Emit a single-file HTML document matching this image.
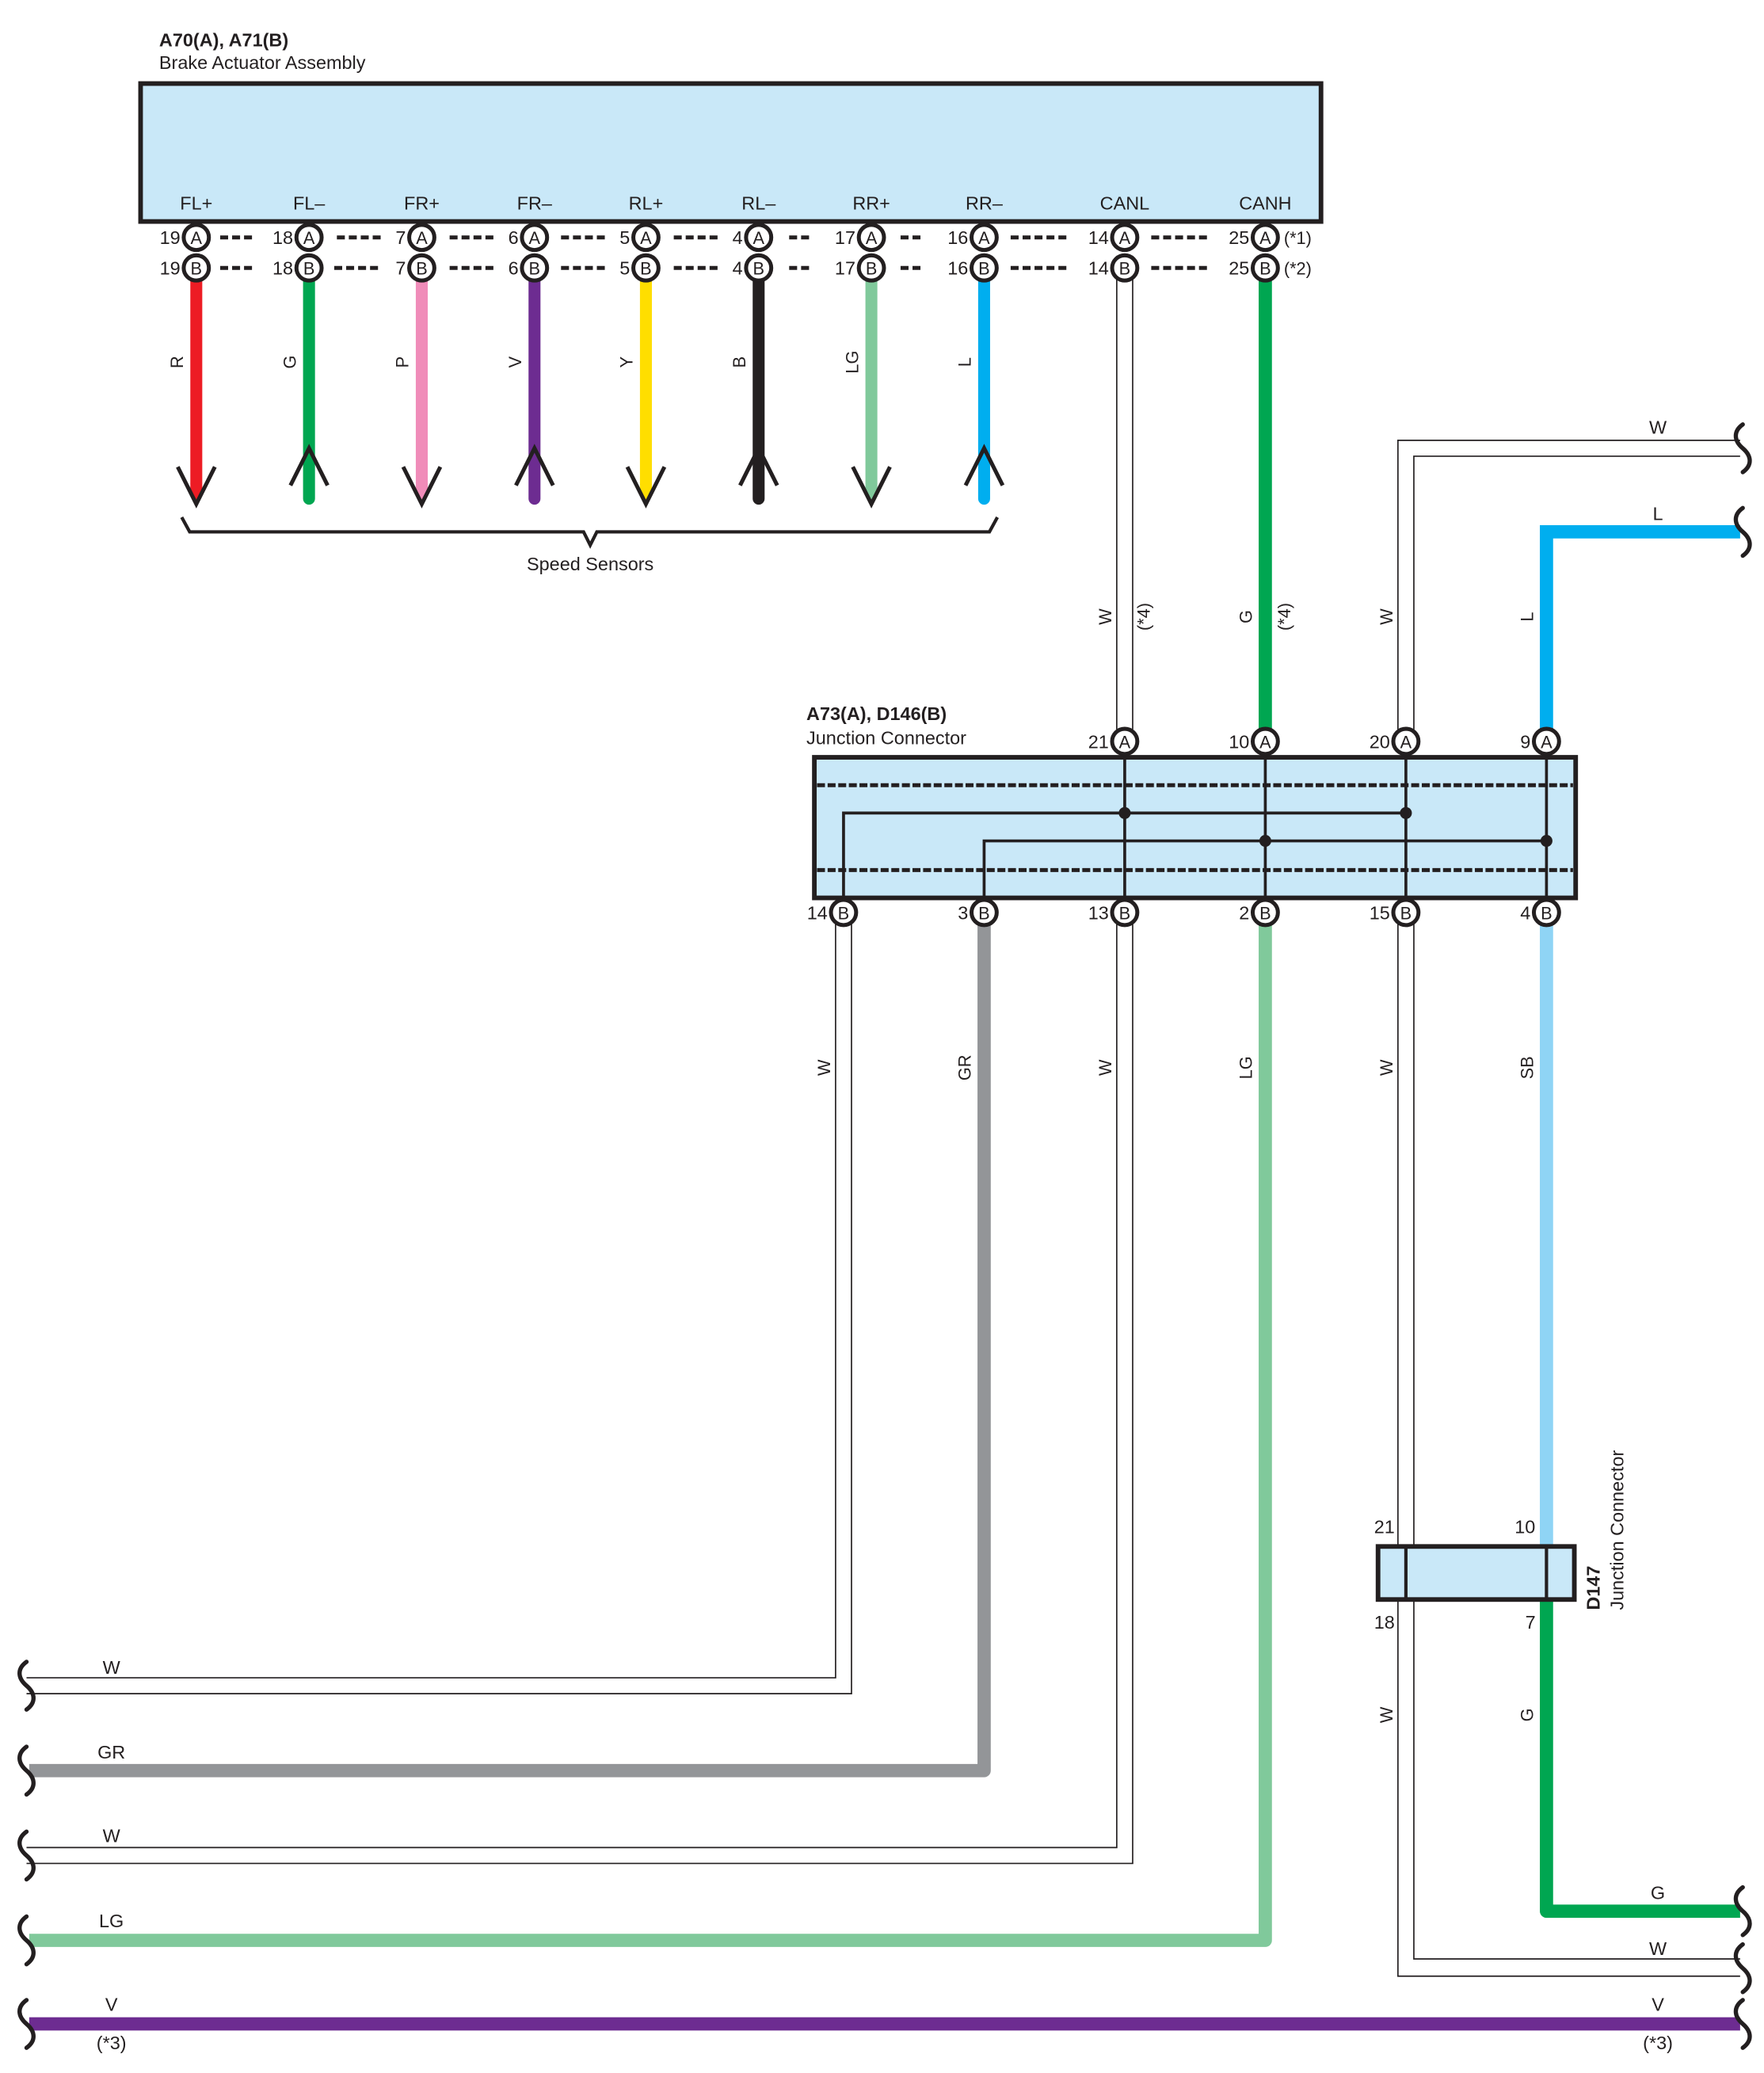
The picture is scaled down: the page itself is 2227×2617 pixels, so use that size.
<!DOCTYPE html>
<html><head><meta charset="utf-8"><style>
html,body{margin:0;padding:0;background:#fff}
svg{display:block}
text{font-family:"Liberation Sans",sans-serif;fill:#231f20}
</style></head><body>
<svg width="2227" height="2617" viewBox="0 0 1330 1563" preserveAspectRatio="none" xmlns="http://www.w3.org/2000/svg">
<defs>
<g id="sq"><path d="M0,-18 c-7,5 -7,12 0,18 c7,6 7,13 0,18" fill="none" stroke="#231f20" stroke-width="3.2" stroke-linecap="round"/></g>
</defs>

<!-- Brake actuator -->
<text x="120" y="35" font-size="14" font-weight="bold">A70(A), A71(B)</text>
<text x="120" y="52" font-size="14">Brake Actuator Assembly</text>
<rect x="106" y="63" width="890" height="104" fill="#c9e8f8" stroke="#231f20" stroke-width="3.5"/>
<g font-size="14" text-anchor="middle">
<text x="148" y="158">FL+</text><text x="233" y="158">FL–</text><text x="318" y="158">FR+</text><text x="403" y="158">FR–</text>
<text x="487" y="158">RL+</text><text x="572" y="158">RL–</text><text x="657" y="158">RR+</text><text x="742" y="158">RR–</text>
<text x="848" y="158">CANL</text><text x="954" y="158">CANH</text>
</g>

<!-- wires top -->
<g stroke-width="9" fill="none" stroke-linecap="round">
<line x1="148" y1="210" x2="148" y2="372" stroke="#ed1c24"/>
<line x1="233" y1="210" x2="233" y2="376" stroke="#00a651"/>
<line x1="318" y1="210" x2="318" y2="372" stroke="#f08cb9"/>
<line x1="403" y1="210" x2="403" y2="376" stroke="#6d2c91"/>
<line x1="487" y1="210" x2="487" y2="372" stroke="#ffde00"/>
<line x1="572" y1="210" x2="572" y2="376" stroke="#231f20"/>
<line x1="657" y1="210" x2="657" y2="372" stroke="#80c99b"/>
<line x1="742" y1="210" x2="742" y2="376" stroke="#00aeef"/>
</g>
<g stroke="#231f20" stroke-width="3" fill="none" stroke-linejoin="miter">
<polyline points="134,352 148,380 162,352"/>
<polyline points="219,366 233,338 247,366"/>
<polyline points="304,352 318,380 332,352"/>
<polyline points="389,366 403,338 417,366"/>
<polyline points="473,352 487,380 501,352"/>
<polyline points="558,366 572,338 586,366"/>
<polyline points="643,352 657,380 671,352"/>
<polyline points="728,366 742,338 756,366"/>
<path d="M137,390 L143,401 L440,401 L445,411 L450,401 L746,401 L752,390" stroke-width="2.5"/>
</g>
<text x="445" y="430" font-size="14" text-anchor="middle">Speed Sensors</text>
<g font-size="13" text-anchor="middle">
<text transform="translate(138,273) rotate(-90)">R</text>
<text transform="translate(223,273) rotate(-90)">G</text>
<text transform="translate(308,273) rotate(-90)">P</text>
<text transform="translate(393,273) rotate(-90)">V</text>
<text transform="translate(477,273) rotate(-90)">Y</text>
<text transform="translate(562,273) rotate(-90)">B</text>
<text transform="translate(647,273) rotate(-90)">LG</text>
<text transform="translate(732,273) rotate(-90)">L</text>
</g>

<!-- CANL W and CANH G -->
<g stroke="#231f20" stroke-width="1" fill="none">
<line x1="842" y1="210" x2="842" y2="550"/><line x1="854" y1="210" x2="854" y2="550"/>
</g>
<line x1="954" y1="210" x2="954" y2="550" stroke="#00a651" stroke-width="10"/>
<g font-size="13" text-anchor="middle">
<text transform="translate(838,465) rotate(-90)">W</text>
<text transform="translate(867,465) rotate(-90)">(*4)</text>
<text transform="translate(944,465) rotate(-90)">G</text>
<text transform="translate(973,465) rotate(-90)">(*4)</text>
</g>

<!-- dashes top -->
<g stroke="#231f20" stroke-width="3" stroke-dasharray="6,3">
<line x1="166" y1="179" x2="190" y2="179"/><line x1="166" y1="202" x2="190" y2="202"/>
<line x1="254" y1="179" x2="287" y2="179"/><line x1="252" y1="202" x2="287" y2="202"/>
<line x1="339" y1="179" x2="372" y2="179"/><line x1="339" y1="202" x2="372" y2="202"/>
<line x1="423" y1="179" x2="457" y2="179"/><line x1="423" y1="202" x2="457" y2="202"/>
<line x1="508" y1="179" x2="541" y2="179"/><line x1="508" y1="202" x2="541" y2="202"/>
<line x1="595" y1="179" x2="610" y2="179"/><line x1="595" y1="202" x2="610" y2="202"/>
<line x1="679" y1="179" x2="695" y2="179"/><line x1="679" y1="202" x2="695" y2="202"/>
<line x1="762" y1="179" x2="805" y2="179"/><line x1="762" y1="202" x2="805" y2="202"/>
<line x1="868" y1="179" x2="911" y2="179"/><line x1="868" y1="202" x2="911" y2="202"/>
</g>
<g fill="#fff" stroke="#231f20" stroke-width="3">
<circle cx="148" cy="179" r="9.5"/><circle cx="233" cy="179" r="9.5"/><circle cx="318" cy="179" r="9.5"/><circle cx="403" cy="179" r="9.5"/><circle cx="487" cy="179" r="9.5"/><circle cx="572" cy="179" r="9.5"/><circle cx="657" cy="179" r="9.5"/><circle cx="742" cy="179" r="9.5"/><circle cx="848" cy="179" r="9.5"/><circle cx="954" cy="179" r="9.5"/>
<circle cx="148" cy="202" r="9.5"/><circle cx="233" cy="202" r="9.5"/><circle cx="318" cy="202" r="9.5"/><circle cx="403" cy="202" r="9.5"/><circle cx="487" cy="202" r="9.5"/><circle cx="572" cy="202" r="9.5"/><circle cx="657" cy="202" r="9.5"/><circle cx="742" cy="202" r="9.5"/><circle cx="848" cy="202" r="9.5"/><circle cx="954" cy="202" r="9.5"/>
</g>
<g font-size="13" text-anchor="middle">
<text x="148" y="184">A</text><text x="233" y="184">A</text><text x="318" y="184">A</text><text x="403" y="184">A</text><text x="487" y="184">A</text><text x="572" y="184">A</text><text x="657" y="184">A</text><text x="742" y="184">A</text><text x="848" y="184">A</text><text x="954" y="184">A</text>
<text x="148" y="207">B</text><text x="233" y="207">B</text><text x="318" y="207">B</text><text x="403" y="207">B</text><text x="487" y="207">B</text><text x="572" y="207">B</text><text x="657" y="207">B</text><text x="742" y="207">B</text><text x="848" y="207">B</text><text x="954" y="207">B</text>
</g>
<g font-size="14" text-anchor="end">
<text x="136" y="184">19</text><text x="221" y="184">18</text><text x="306" y="184">7</text><text x="391" y="184">6</text><text x="475" y="184">5</text><text x="560" y="184">4</text><text x="645" y="184">17</text><text x="730" y="184">16</text><text x="836" y="184">14</text><text x="942" y="184">25</text>
<text x="136" y="207">19</text><text x="221" y="207">18</text><text x="306" y="207">7</text><text x="391" y="207">6</text><text x="475" y="207">5</text><text x="560" y="207">4</text><text x="645" y="207">17</text><text x="730" y="207">16</text><text x="836" y="207">14</text><text x="942" y="207">25</text>
</g>
<text x="968" y="184" font-size="13">(*1)</text>
<text x="968" y="207" font-size="13">(*2)</text>

<!-- right upper W and L -->
<g stroke="#231f20" stroke-width="1" fill="none">
<polyline points="1054,550 1054,332 1312,332"/>
<polyline points="1066,550 1066,344 1312,344"/>
</g>
<polyline points="1166,550 1166,401 1312,401" fill="none" stroke="#00aeef" stroke-width="10"/>
<text x="1250" y="327" font-size="14" text-anchor="middle">W</text>
<text x="1250" y="392" font-size="14" text-anchor="middle">L</text>
<g font-size="13" text-anchor="middle">
<text transform="translate(1050,465) rotate(-90)">W</text>
<text transform="translate(1156,465) rotate(-90)">L</text>
</g>
<use href="#sq" x="1314" y="338"/>
<use href="#sq" x="1314" y="401"/>

<!-- lower wires -->
<g stroke="#231f20" stroke-width="1" fill="none">
<polyline points="630,690 630,1265 20,1265"/>
<polyline points="642,690 642,1277 20,1277"/>
<polyline points="842,690 842,1393 20,1393"/>
<polyline points="854,690 854,1405 20,1405"/>
<polyline points="1054,690 1054,1490 1312,1490"/>
<polyline points="1066,690 1066,1477 1312,1477"/>
</g>
<polyline points="742,690 742,1335 22,1335" fill="none" stroke="#939598" stroke-width="10" stroke-linejoin="round"/>
<polyline points="954,690 954,1463 22,1463" fill="none" stroke="#80c99b" stroke-width="10" stroke-linejoin="round"/>
<line x1="1166" y1="690" x2="1166" y2="1166" stroke="#8fd4f5" stroke-width="10"/>
<polyline points="1166,1206 1166,1441 1312,1441" fill="none" stroke="#00a651" stroke-width="10" stroke-linejoin="round"/>
<line x1="22" y1="1526" x2="1312" y2="1526" stroke="#6d2c91" stroke-width="10"/>
<use href="#sq" x="20" y="1271"/>
<use href="#sq" x="20" y="1335"/>
<use href="#sq" x="20" y="1399"/>
<use href="#sq" x="20" y="1463"/>
<use href="#sq" x="20" y="1526"/>
<use href="#sq" x="1314" y="1441"/>
<use href="#sq" x="1314" y="1484"/>
<use href="#sq" x="1314" y="1526"/>
<g font-size="14" text-anchor="middle">
<text x="84" y="1262">W</text><text x="84" y="1326">GR</text><text x="84" y="1389">W</text><text x="84" y="1453">LG</text><text x="84" y="1516">V</text><text x="84" y="1545">(*3)</text>
<text x="1250" y="1432">G</text><text x="1250" y="1474">W</text><text x="1250" y="1516">V</text><text x="1250" y="1545">(*3)</text>
</g>
<g font-size="13" text-anchor="middle">
<text transform="translate(626,805) rotate(-90)">W</text>
<text transform="translate(732,805) rotate(-90)">GR</text>
<text transform="translate(838,805) rotate(-90)">W</text>
<text transform="translate(944,805) rotate(-90)">LG</text>
<text transform="translate(1050,805) rotate(-90)">W</text>
<text transform="translate(1156,805) rotate(-90)">SB</text>
<text transform="translate(1050,1293) rotate(-90)">W</text>
<text transform="translate(1156,1293) rotate(-90)">G</text>
</g>

<!-- Junction connector A73/D146 -->
<text x="608" y="543" font-size="14" font-weight="bold">A73(A), D146(B)</text>
<text x="608" y="561" font-size="14">Junction Connector</text>
<rect x="614" y="571" width="574" height="106" fill="#c9e8f8" stroke="#231f20" stroke-width="3.5"/>
<g stroke="#231f20" stroke-width="3" stroke-dasharray="6,2">
<line x1="616" y1="592" x2="1186" y2="592"/><line x1="616" y1="656" x2="1186" y2="656"/>
</g>
<g stroke="#231f20" stroke-width="2.2" fill="none">
<line x1="848" y1="568" x2="848" y2="680"/><line x1="954" y1="568" x2="954" y2="680"/>
<line x1="1060" y1="568" x2="1060" y2="680"/><line x1="1166" y1="568" x2="1166" y2="680"/>
<polyline points="636,680 636,613 1060,613"/>
<polyline points="742,680 742,634 1166,634"/>
</g>
<g fill="#231f20">
<circle cx="848" cy="613" r="4.5"/><circle cx="1060" cy="613" r="4.5"/><circle cx="954" cy="634" r="4.5"/><circle cx="1166" cy="634" r="4.5"/>
</g>
<g fill="#fff" stroke="#231f20" stroke-width="3">
<circle cx="848" cy="559" r="9.5"/><circle cx="954" cy="559" r="9.5"/><circle cx="1060" cy="559" r="9.5"/><circle cx="1166" cy="559" r="9.5"/>
<circle cx="636" cy="688" r="9.5"/><circle cx="742" cy="688" r="9.5"/><circle cx="848" cy="688" r="9.5"/><circle cx="954" cy="688" r="9.5"/><circle cx="1060" cy="688" r="9.5"/><circle cx="1166" cy="688" r="9.5"/>
</g>
<g font-size="13" text-anchor="middle">
<text x="848" y="564">A</text><text x="954" y="564">A</text><text x="1060" y="564">A</text><text x="1166" y="564">A</text>
<text x="636" y="693">B</text><text x="742" y="693">B</text><text x="848" y="693">B</text><text x="954" y="693">B</text><text x="1060" y="693">B</text><text x="1166" y="693">B</text>
</g>
<g font-size="14" text-anchor="end">
<text x="836" y="564">21</text><text x="942" y="564">10</text><text x="1048" y="564">20</text><text x="1154" y="564">9</text>
<text x="624" y="693">14</text><text x="730" y="693">3</text><text x="836" y="693">13</text><text x="942" y="693">2</text><text x="1048" y="693">15</text><text x="1154" y="693">4</text>
</g>

<!-- D147 -->
<rect x="1039" y="1166" width="148" height="40" fill="#c9e8f8" stroke="#231f20" stroke-width="3.5"/>
<line x1="1060" y1="1166" x2="1060" y2="1206" stroke="#231f20" stroke-width="2.5"/>
<line x1="1166" y1="1166" x2="1166" y2="1206" stroke="#231f20" stroke-width="2.5"/>
<g font-size="14">
<text x="1036" y="1156">21</text><text x="1142" y="1156">10</text>
<text x="1036" y="1228">18</text><text x="1150" y="1228">7</text>
</g>
<text transform="translate(1206,1214) rotate(-90)" font-size="14" font-weight="bold">D147</text>
<text transform="translate(1224,1214) rotate(-90)" font-size="14">Junction Connector</text>
</svg>
</body></html>
